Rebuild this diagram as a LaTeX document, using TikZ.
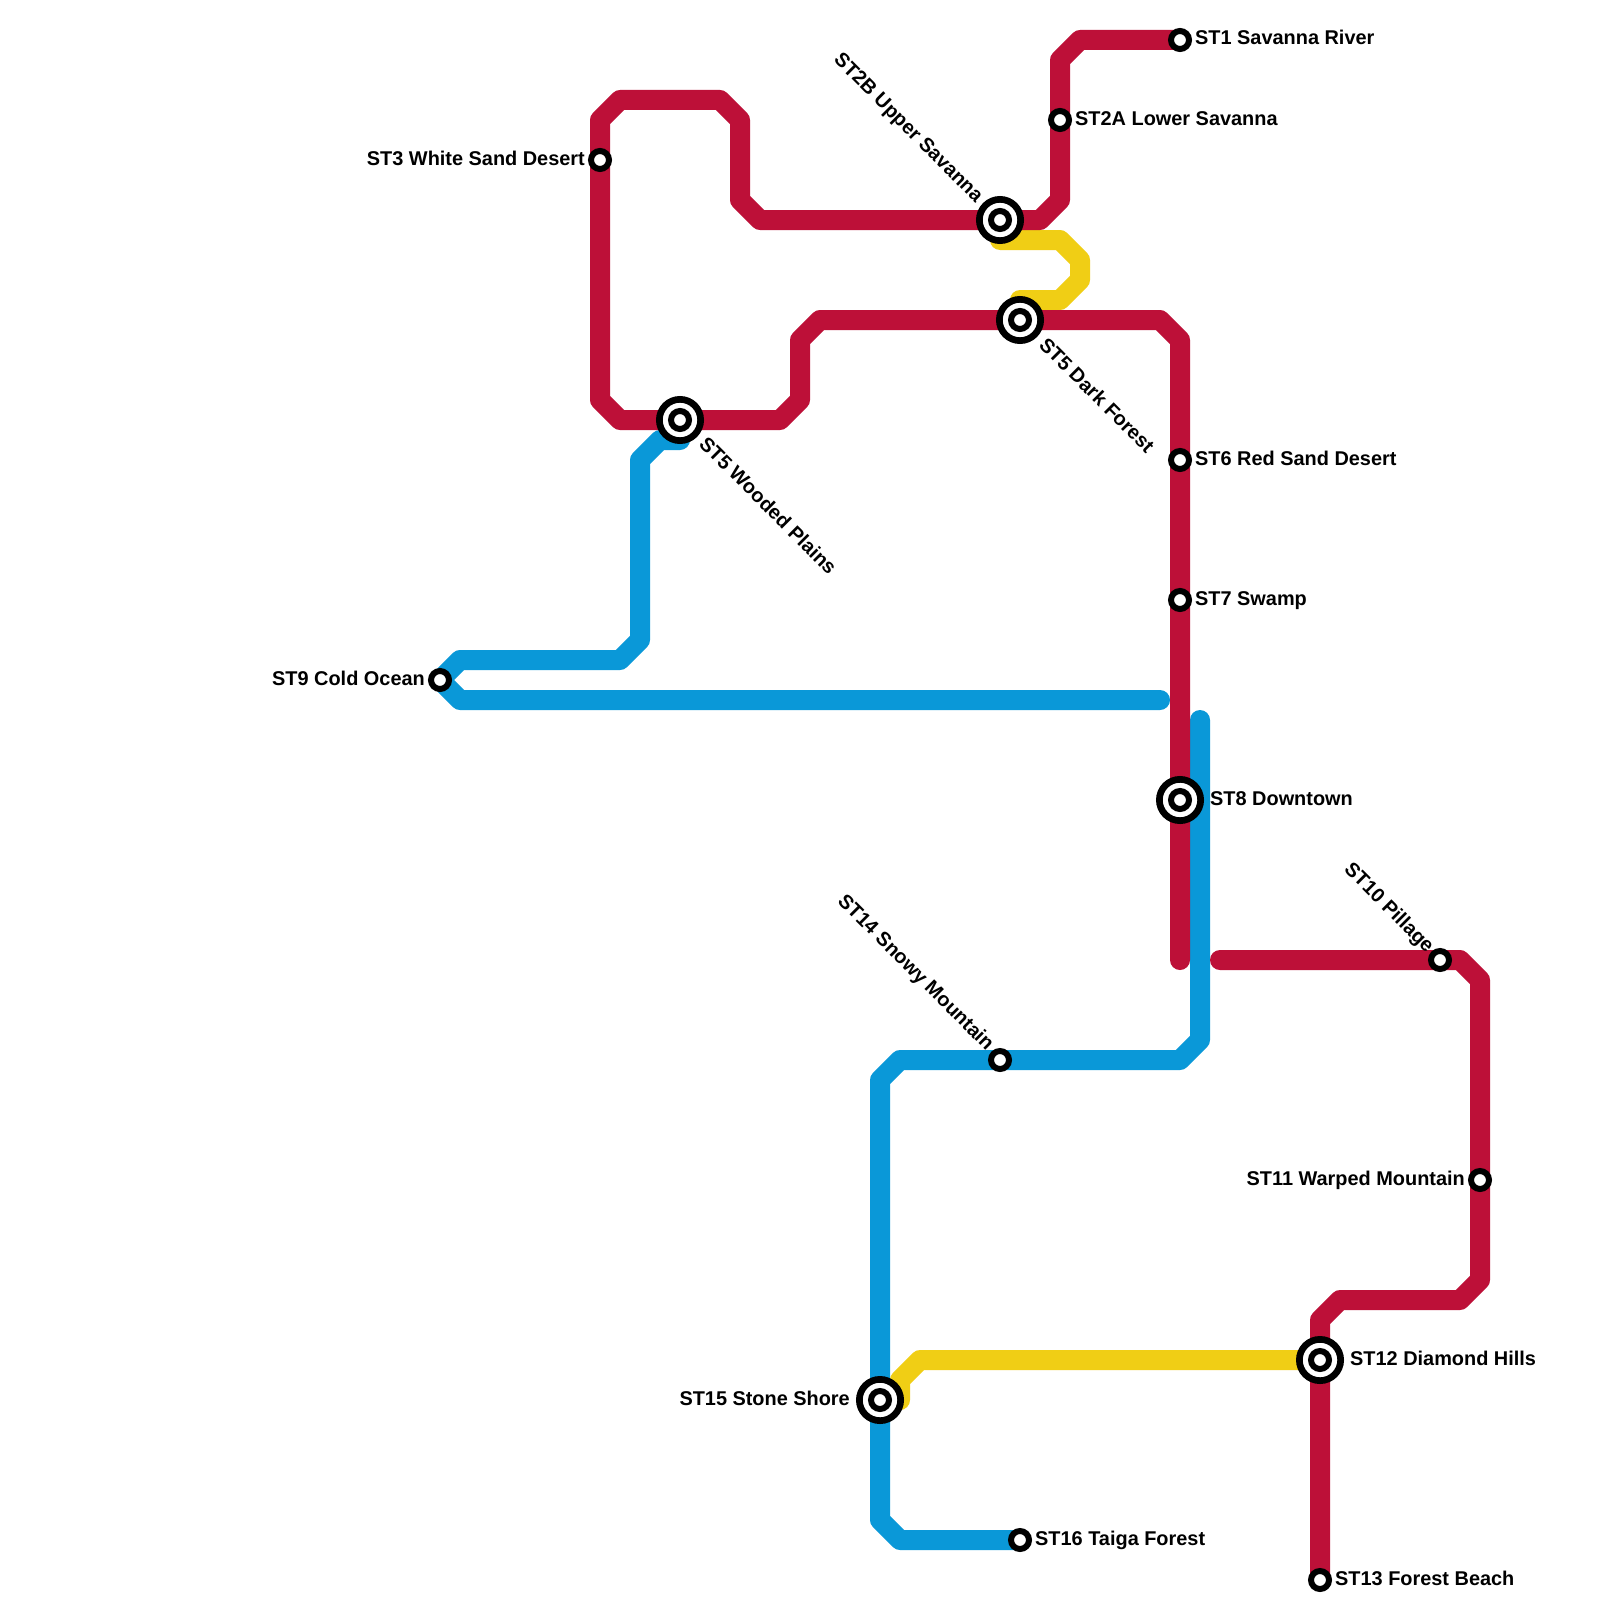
\documentclass[tikz,border=0pt]{standalone}
\usepackage{fontspec}
\setmainfont{Liberation Sans}
\usetikzlibrary{backgrounds}
\definecolor{redline}{HTML}{BD1038}
\definecolor{blueline}{HTML}{0A98D8}
\definecolor{yellowline}{HTML}{F0CE15}
\tikzset{
  metro/.style={line width=20pt,line join=round,line cap=round},
  smallst/.style={circle,draw=black,fill=white,line width=6pt,minimum size=18pt,inner sep=0pt},
  bigst/.style={circle,draw=black,fill=white,line width=6.7pt,minimum size=41.3pt,inner sep=0pt},
  lab/.style={inner sep=0pt,text=black,font=\fontsize{19.9pt}{23pt}\selectfont\bfseries},
  labr/.style={lab,anchor=base west},
  labl/.style={lab,anchor=base east},
  diagr/.style={lab,anchor=west,rotate=-45},
  diagl/.style={lab,anchor=east,rotate=-45}
}
\begin{document}
\begin{tikzpicture}[x=1pt,y=-1pt]
\useasboundingbox (0,0) rectangle (1600,1600);
% stations
\node[smallst] (st1) at (1180,40) {};
\node[smallst] (st2a) at (1060,120) {};
\node[bigst] (st2bo) at (1000,220) {};
\node[smallst] (st2b) at (1000,220) {};
\node[smallst] (st3) at (600,160) {};
\node[bigst] (st5do) at (1020,320) {};
\node[smallst] (st5d) at (1020,320) {};
\node[bigst] (st5wo) at (680,420) {};
\node[smallst] (st5w) at (680,420) {};
\node[smallst] (st6) at (1180,460) {};
\node[smallst] (st7) at (1180,600) {};
\node[bigst] (st8o) at (1180,800) {};
\node[smallst] (st8) at (1180,800) {};
\node[smallst] (st9) at (440,680) {};
\node[smallst] (st10) at (1440,960) {};
\node[smallst] (st11) at (1480,1180) {};
\node[bigst] (st12o) at (1320,1360) {};
\node[smallst] (st12) at (1320,1360) {};
\node[smallst] (st13) at (1320,1580) {};
\node[smallst] (st14) at (1000,1060) {};
\node[bigst] (st15o) at (880,1400) {};
\node[smallst] (st15) at (880,1400) {};
\node[smallst] (st16) at (1020,1540) {};
% free line ends
\coordinate (redA) at (1180,960);
\coordinate (redB) at (1220,960);
\coordinate (blueA) at (680,440);
\coordinate (blueB) at (1160,700);
\coordinate (blueC) at (1200,720);
\coordinate (yelA) at (1000,240);
\coordinate (yelB) at (1020,300);
\coordinate (yelC) at (900,1400);
% lines
\begin{pgfonlayer}{background}
\fill[white] (0,0) rectangle (1600,1600);
\draw[metro,blueline] (blueA) -- (660,440) -- (640,460) -- (640,640) -- (620,660) -- (460,660) -- (st9.center) -- (460,700) -- (blueB);
\draw[metro,blueline] (blueC) -- (1200,1040) -- (1180,1060) -- (st14.center) -- (900,1060) -- (880,1080) -- (st15.center) -- (880,1520) -- (900,1540) -- (st16.center);
\draw[metro,yellowline] (yelA) -- (1060,240) -- (1080,260) -- (1080,280) -- (1060,300) -- (yelB);
\draw[metro,yellowline] (yelC) -- (900,1380) -- (920,1360) -- (st12.center);
\draw[metro,redline] (st1.center) -- (1080,40) -- (1060,60) -- (st2a.center) -- (1060,200) -- (1040,220) -- (st2b.center) -- (760,220) -- (740,200) -- (740,120) -- (720,100) -- (620,100) -- (600,120) -- (st3.center) -- (600,400) -- (620,420) -- (st5w.center) -- (780,420) -- (800,400) -- (800,340) -- (820,320) -- (st5d.center) -- (1160,320) -- (1180,340) -- (st6.center) -- (st7.center) -- (st8.center) -- (redA);
\draw[metro,redline] (redB) -- (st10.center) -- (1460,960) -- (1480,980) -- (st11.center) -- (1480,1280) -- (1460,1300) -- (1340,1300) -- (1320,1320) -- (st12.center) -- (st13.center);
\end{pgfonlayer}
% labels
\node[labr] (l1) at (1195,45) {ST1 Savanna River};
\node[labr] (l2a) at (1075,125) {ST2A Lower Savanna};
\node[diagl] (l2b) at (979,200) {ST2B Upper Savanna};
\node[labl] (l3) at (585,165) {ST3 White Sand Desert};
\node[diagr] (l5d) at (1043,341) {ST5 Dark Forest};
\node[diagr] (l5w) at (703,440) {ST5 Wooded Plains};
\node[labr] (l6) at (1195,465) {ST6 Red Sand Desert};
\node[labr] (l7) at (1195,605) {ST7 Swamp};
\node[labr] (l8) at (1210,805) {ST8 Downtown};
\node[labl] (l9) at (425,685) {ST9 Cold Ocean};
\node[diagl] (l10) at (1430,950) {ST10 Pillage};
\node[labl] (l11) at (1465,1185) {ST11 Warped Mountain};
\node[labr] (l12) at (1350,1365) {ST12 Diamond Hills};
\node[labr] (l13) at (1335,1585) {ST13 Forest Beach};
\node[diagl] (l14) at (990,1048) {ST14 Snowy Mountain};
\node[labl] (l15) at (850,1405) {ST15 Stone Shore};
\node[labr] (l16) at (1035,1545) {ST16 Taiga Forest};
\end{tikzpicture}
\end{document}
